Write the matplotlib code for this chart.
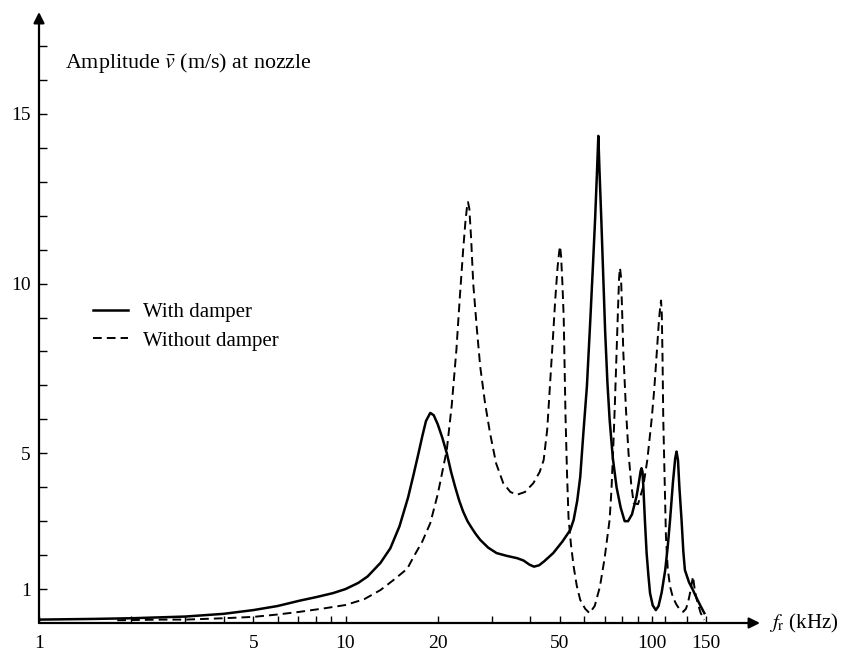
import numpy as np
import matplotlib
matplotlib.use("Agg")
import matplotlib.pyplot as plt
from matplotlib.ticker import FixedLocator, FixedFormatter, NullFormatter

plt.rcParams['font.family'] = ['Liberation Serif', 'DejaVu Serif']
plt.rcParams['mathtext.fontset'] = 'stix'

# Frequency response at the nozzle (frequency in kHz, amplitude in m/s)
f_damper = [1.0, 1.5, 2.0, 3.0, 4.0, 5.0, 6.0, 7.1, 8.0, 9.1, 10.0, 11.0, 11.8,
            13.0, 14.0, 15.0, 16.0, 16.7, 17.3, 17.8, 18.3, 18.9, 19.4, 20.0,
            20.7, 21.4, 22.1, 22.8, 23.5, 24.2, 25.0, 25.8, 26.6, 27.5, 29.2,
            31.1, 33.5, 36.3, 38.1, 39.8, 41.2, 42.8, 44.5, 47.6, 51.0, 54.1,
            55.5, 57.0, 58.3, 59.7, 61.3, 62.9, 64.2, 65.2, 66.2, 66.8, 67.4,
            68.3, 69.2, 70.3, 71.5, 72.7, 74.5, 76.6, 79.0, 81.4, 83.5, 86.0,
            89.0, 90.8, 91.8, 92.4, 93.1, 93.8, 94.8, 96.0, 97.3, 98.5, 100.5,
            102.9, 105.0, 107.5, 110.4, 112.5, 114.5, 117.0, 119.0, 120.2,
            121.5, 122.8, 124.8, 126.5, 128.0, 132.0, 136.0, 140.0, 144.0,
            148.1]
a_damper = [0.10, 0.12, 0.14, 0.19, 0.27, 0.38, 0.50, 0.66, 0.76, 0.88, 1.00,
            1.18, 1.37, 1.77, 2.20, 2.85, 3.70, 4.40, 5.00, 5.50, 5.95, 6.19,
            6.12, 5.85, 5.45, 5.00, 4.45, 4.00, 3.60, 3.28, 3.00, 2.80, 2.62,
            2.45, 2.22, 2.06, 1.98, 1.91, 1.84, 1.72, 1.66, 1.70, 1.82, 2.06,
            2.40, 2.74, 3.04, 3.60, 4.30, 5.60, 6.97, 8.94, 10.6, 11.9, 13.4,
            14.35, 13.3, 11.9, 10.4, 8.60, 7.10, 6.00, 4.85, 4.00, 3.40, 3.00,
            3.00, 3.20, 3.73, 4.20, 4.48, 4.56, 4.45, 3.90, 3.00, 2.06, 1.40,
            0.88, 0.52, 0.38, 0.50, 0.90, 1.56, 2.25, 3.04, 4.15, 4.85, 5.05,
            4.80, 4.00, 3.04, 2.10, 1.56, 1.20, 0.97, 0.72, 0.50, 0.29]

f_free = [1.8, 2.5, 3.0, 4.0, 5.0, 6.0, 7.1, 8.5, 10.0, 11.5, 13.0, 14.5, 15.9,
          16.7, 17.8, 18.9, 20.0, 21.4, 22.2, 23.0, 23.6, 24.2, 24.6, 24.9,
          25.1, 25.35, 25.7, 26.1, 26.8, 27.5, 28.5, 29.6, 31.0, 32.7, 34.5,
          36.3, 38.5, 41.0, 43.0, 44.3, 45.5, 46.5, 47.5, 48.3, 49.2, 49.8,
          50.1, 50.5, 51.0, 51.5, 52.2, 52.8, 53.4, 54.4, 55.5, 56.8, 58.3,
          60.5, 62.5, 65.0, 67.6, 70.0, 72.7, 73.7, 74.6, 75.6, 76.6, 77.4,
          78.1, 78.6, 79.2, 79.8, 80.6, 82.2, 83.8, 85.5, 87.1, 90.0, 93.6,
          96.5, 99.7, 101.7, 103.6, 105.3, 106.4, 107.0, 107.6, 108.2, 108.8,
          110.0, 111.0, 112.5, 114.5, 117.0, 120.0, 123.0, 126.4, 129.0,
          131.0, 133.5, 136.0, 137.5, 139.0, 141.0, 144.0, 148.0]
a_free = [0.08, 0.10, 0.10, 0.14, 0.18, 0.25, 0.33, 0.43, 0.53, 0.70, 0.97,
          1.30, 1.60, 1.96, 2.40, 2.94, 3.80, 5.10, 6.40, 8.05, 9.60, 11.0,
          11.8, 12.25, 12.4, 12.2, 11.3, 10.0, 8.70, 7.56, 6.50, 5.60, 4.70,
          4.12, 3.86, 3.78, 3.86, 4.12, 4.45, 4.80, 5.70, 7.07, 8.40, 9.50,
          10.5, 10.95, 11.1, 10.8, 10.0, 9.00, 6.10, 4.40, 3.10, 2.30, 1.66,
          1.10, 0.68, 0.42, 0.29, 0.50, 1.07, 1.90, 3.04, 3.90, 5.00, 6.40,
          7.96, 9.20, 10.2, 10.46, 10.2, 9.30, 7.96, 6.30, 5.00, 4.10, 3.53,
          3.50, 4.02, 4.80, 6.00, 6.90, 7.96, 8.90, 9.35, 9.50, 9.10, 7.80,
          6.00, 4.10, 2.55, 1.60, 1.07, 0.75, 0.55, 0.40, 0.33, 0.42, 0.60,
          0.95, 1.37, 1.05, 0.80, 0.58, 0.30, 0.09]

x_major = [1, 5, 10, 20, 50, 100, 150]
x_minor = [2, 3, 4, 6, 7, 8, 9, 30, 40, 60, 70, 80, 90, 110, 130]
y_major = [1, 5, 10, 15]
y_minor = [2, 3, 4, 6, 7, 8, 9, 11, 12, 13, 14, 16, 17]

W, H = 843, 651
fig = plt.figure(figsize=(W / 100, H / 100), dpi=100)
ax = fig.add_axes([39 / W, 28 / H, (760 - 39) / W, (623 - 12) / H])

ax.plot(f_damper, a_damper, color='black', lw=1.8, solid_joinstyle='round',
        label='With damper')
ax.plot(f_free, a_free, color='black', lw=1.4, linestyle=(0, (4.5, 2.6)),
        label='Without damper')

ax.set_xscale('log')
ax.set_xlim(1, 225)
ax.set_ylim(0, 18)

for s in ax.spines.values():
    s.set_visible(False)

arrow = dict(arrowstyle='-|>', color='black', lw=1.6, mutation_scale=16,
             shrinkA=0, shrinkB=0)
ax.annotate('', xy=(1, 0), xytext=(0, 0), xycoords='axes fraction',
            arrowprops=arrow, annotation_clip=False)
ax.annotate('', xy=(0, 1), xytext=(0, 0), xycoords='axes fraction',
            arrowprops=arrow, annotation_clip=False)

ax.xaxis.set_major_locator(FixedLocator(x_major))
ax.xaxis.set_major_formatter(FixedFormatter([str(v) for v in x_major]))
ax.xaxis.set_minor_locator(FixedLocator(x_minor))
ax.xaxis.set_minor_formatter(NullFormatter())
ax.yaxis.set_major_locator(FixedLocator(y_major))
ax.yaxis.set_major_formatter(FixedFormatter([str(v) for v in y_major]))
ax.yaxis.set_minor_locator(FixedLocator(y_minor))

ax.tick_params(axis='x', which='both', direction='in', length=5, width=1,
               pad=9, labelsize=14)
ax.tick_params(axis='y', which='both', direction='in', length=6, width=1,
               pad=6, labelsize=14)

ax.text(1.22, 16.5, r'Amplitude $\bar{v}$ (m/s) at nozzle', fontsize=15.8,
        va='center', ha='left')
ax.text(1.012, 0.0, r'$f_\mathrm{r}$ (kHz)', transform=ax.transAxes,
        fontsize=15, va='center', ha='left')

ax.legend(loc='upper left', bbox_to_anchor=(0.075, 0.525), frameon=False,
          fontsize=15, handlelength=1.7, handletextpad=0.7, labelspacing=0.45,
          borderpad=0, borderaxespad=0)

fig.savefig('out.png', dpi=100)
